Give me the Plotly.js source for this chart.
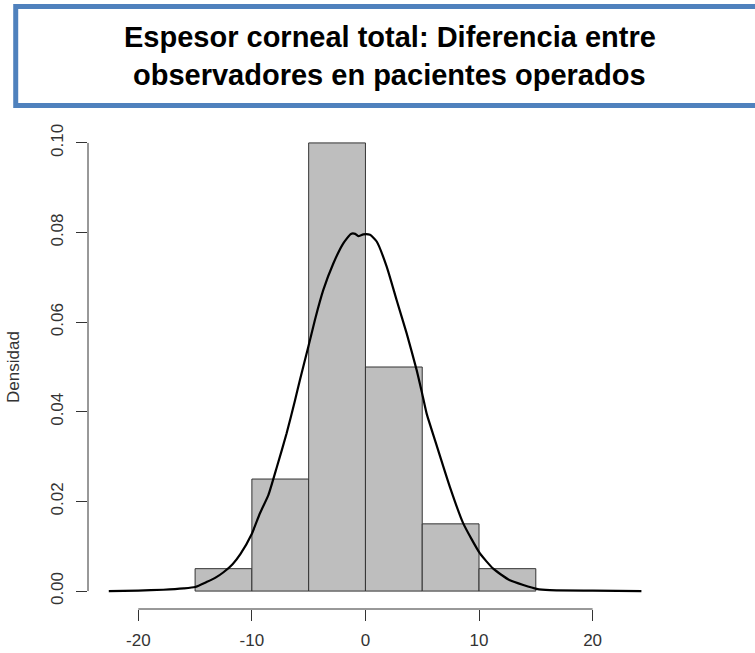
<!DOCTYPE html>
<html>
<head>
<meta charset="utf-8">
<script src="https://cdn.plot.ly/plotly-3.0.1.min.js"></script>
<style>html,body{margin:0;padding:0;background:#fff;}#chart{width:755px;height:653px;}</style>
</head>
<body>
<div id="chart"></div>
<script>
// Histogram breaks and densities
const breaks = [-15, -10, -5, 0, 5, 10, 15];
const densities = [0.005, 0.025, 0.100, 0.050, 0.015, 0.005];

// Kernel density curve
const kdeX = [-22.6, -20.0, -17.8, -16.0, -15.0, -14.0, -13.2, -12.5, -11.7, -11.0, -10.0, -9.3, -8.55, -7.8, -6.94, -6.2, -5.77, -5.03, -4.45, -3.71, -2.83, -1.95, -1.28, -0.9, -0.63, -0.19, 0.40, 0.99, 1.87, 2.75, 3.63, 4.51, 5.0, 5.39, 6.12, 7.44, 8.61, 10.08, 11.25, 12.72, 15.07, 16.24, 20.0, 24.3];
const kdeY = [0.0000, 0.0001, 0.0003, 0.0006, 0.0009, 0.0020, 0.0030, 0.0042, 0.0060, 0.0083, 0.0128, 0.0173, 0.0214, 0.0277, 0.0352, 0.0426, 0.0471, 0.0545, 0.0605, 0.0672, 0.0731, 0.0776, 0.0797, 0.0797, 0.0792, 0.0796, 0.0795, 0.0780, 0.0724, 0.0649, 0.0575, 0.0493, 0.0440, 0.0396, 0.0337, 0.0232, 0.0151, 0.0084, 0.0050, 0.0024, 0.0005, 0.0002, 0.0001, 0.0000];

const xTicks = [-20, -10, 0, 10, 20];
const yTicks = [0.00, 0.02, 0.04, 0.06, 0.08, 0.10];
const yTickText = ['0.00', '0.02', '0.04', '0.06', '0.08', '0.10'];

const titleLine1 = 'Espesor corneal total: Diferencia entre';
const titleLine2 = 'observadores en pacientes operados';
const yTitle = 'Densidad';

const centers = densities.map((d, i) => (breaks[i] + breaks[i + 1]) / 2);
const widths = densities.map((d, i) => breaks[i + 1] - breaks[i]);

const axisFont = {family: 'Liberation Sans, Arial, sans-serif', size: 17, color: '#333'};
const titleFont = {family: 'Liberation Sans, Arial, sans-serif', size: 29, color: '#000'};

const traces = [
  {
    type: 'bar', x: centers, y: densities, width: widths,
    marker: {color: '#BEBEBE', line: {color: '#333', width: 1}},
    hoverinfo: 'x+y', showlegend: false
  },
  {
    type: 'scatter', mode: 'lines', x: kdeX, y: kdeY,
    line: {color: '#000', width: 2.2, shape: 'spline', smoothing: 0.5},
    showlegend: false
  }
];

const layout = {
  width: 755, height: 653,
  margin: {l: 88, r: 92, t: 125, b: 44},
  paper_bgcolor: '#fff', plot_bgcolor: '#fff',
  bargap: 0,
  xaxis: {
    range: [-24.43, 26.2], tickvals: xTicks, ticktext: xTicks.map(String),
    ticks: 'outside', ticklen: 11, tickcolor: '#333', tickwidth: 1,
    showgrid: false, zeroline: false, showline: false,
    tickfont: axisFont, automargin: false, ticklabelstandoff: 5
  },
  yaxis: {
    range: [-0.004, 0.104], tickvals: yTicks, ticktext: yTickText, tickangle: -90,
    ticks: 'outside', ticklen: 11, tickcolor: '#333', tickwidth: 1,
    showgrid: false, zeroline: false, showline: false,
    tickfont: axisFont, automargin: false, ticklabelstandoff: 6,
    title: {text: yTitle, font: axisFont, standoff: 24}
  },
  shapes: [
    {type: 'line', xref: 'x', yref: 'paper', x0: xTicks[0], x1: xTicks[xTicks.length - 1], y0: 0, y1: 0,
     line: {color: '#333', width: 1}},
    {type: 'line', xref: 'paper', yref: 'y', x0: 0, x1: 0, y0: yTicks[0], y1: yTicks[yTicks.length - 1],
     line: {color: '#333', width: 1}},
    {type: 'rect', xref: 'paper', yref: 'paper', x0: -0.1257, x1: 1.21, y0: 1.0403, y1: 1.2448,
     line: {color: '#4F81BD', width: 5}, fillcolor: 'rgba(0,0,0,0)'}
  ],
  annotations: [
    {text: '<b>' + titleLine1 + '</b>', xref: 'paper', yref: 'paper', x: 0.5252, y: 1.1808,
     xanchor: 'center', yanchor: 'middle', showarrow: false, font: titleFont},
    {text: '<b>' + titleLine2 + '</b>', xref: 'paper', yref: 'paper', x: 0.5252, y: 1.1033,
     xanchor: 'center', yanchor: 'middle', showarrow: false, font: titleFont}
  ]
};

Plotly.newPlot('chart', traces, layout, {displayModeBar: false, staticPlot: true});
</script>
</body>
</html>
